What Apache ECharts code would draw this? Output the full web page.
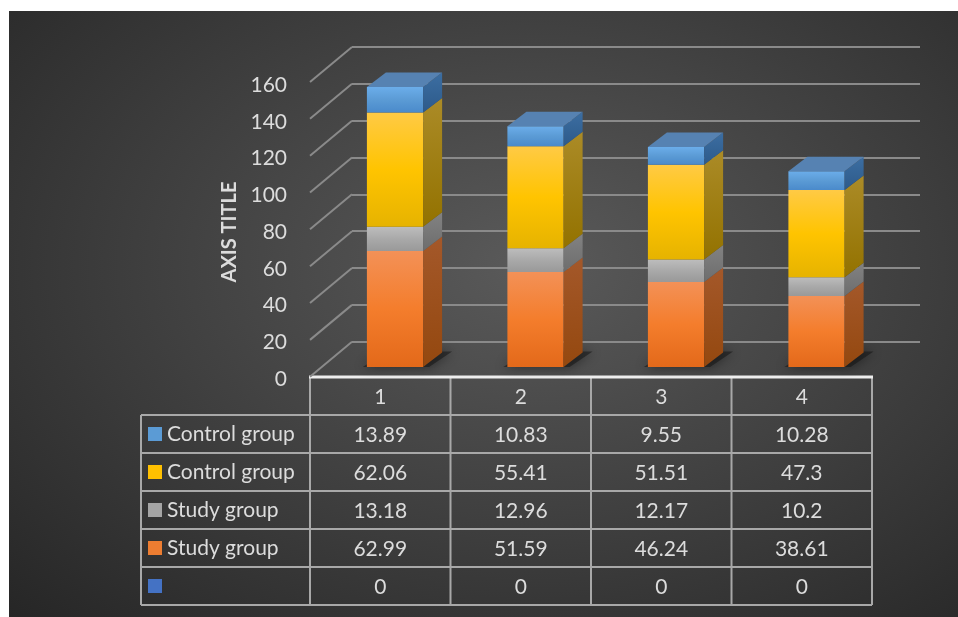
<!DOCTYPE html>
<html>
<head>
<meta charset="utf-8">
<script src="https://cdn.jsdelivr.net/npm/echarts@6/dist/echarts.min.js"></script>
<style>
html, body { margin: 0; padding: 0; background: #fff; }
#bg { position: absolute; left: 9px; top: 11px; width: 949px; height: 606px;
      background: radial-gradient(ellipse at 55% 42%, #5a5a5a 0%, #404040 50%, #262626 100%); }
#chart { position: absolute; left: 0; top: 0; width: 958px; height: 617px; }
</style>
</head>
<body>
<div id="bg"></div>
<div id="chart"></div>
<script>
// ---- data ----
const categories = ['1', '2', '3', '4'];
const yTicks = [0, 20, 40, 60, 80, 100, 120, 140, 160];
// stack order, from the floor up
const studyOrange = [62.99, 51.59, 46.24, 38.61];
const studyGray = [13.18, 12.96, 12.17, 10.2];
const controlYellow = [62.06, 55.41, 51.51, 47.3];
const controlBlue = [13.89, 10.83, 9.55, 10.28];
const blankSeries = [0, 0, 0, 0];
// table rows, top to bottom
const rowNames = ['Control group', 'Control group', 'Study group', 'Study group', ''];
const rowValues = [controlBlue, controlYellow, studyGray, studyOrange, blankSeries];
const rowColors = ['#5b9bd5', '#ffc000', '#a5a5a5', '#ed7d31', '#4472c4'];

// ---- looks ----
const DX = 19, DY = -14.5;          // bar depth
const WALL_DX = 42, WALL_DY = -35;  // wall depth
const TEXT = '#dcdcdc';
const FONT = 'Lato';
const FS = 21;
const layers = [
    { values: studyOrange, front: ['#f39157', '#f47d2c', '#e3691a'], side: ['#a4582a', '#94480f'] },
    { values: studyGray, front: ['#bdbdbd', '#a9a9a9', '#999999'], side: ['#828282', '#6d6d6d'] },
    { values: controlYellow, front: ['#ffca45', '#ffc400', '#e6b300'], side: ['#ab8b27', '#937200'] },
    { values: controlBlue, front: ['#6badea', '#5b9bd5', '#4a8acb'], side: ['#3c6ea2', '#2d5a8a'], top: '#5682b2' }
];

function grad(cols) {
    return new echarts.graphic.LinearGradient(0, 0, 0, 1,
        cols.map((c, i) => ({ offset: i / (cols.length - 1), color: c })));
}

function segmentRenderer(layer) {
    return function (params, api) {
        const c = api.value(0);
        const lo = api.coord([c, api.value(1)]);
        const hi = api.coord([c, api.value(2)]);
        const w = api.size([1, 0])[0] * 0.4;
        const x0 = lo[0] - w / 2, x1 = lo[0] + w / 2, yb = lo[1], yt = hi[1];
        if (yb - yt < 0.5) return null;
        const children = [
            { type: 'rect', shape: { x: x0, y: yt, width: w, height: yb - yt }, style: { fill: grad(layer.front) } },
            { type: 'polygon', shape: { points: [[x1, yb], [x1 + DX, yb + DY], [x1 + DX, yt + DY], [x1, yt]] },
              style: { fill: grad(layer.side) } }
        ];
        if (layer.top) {
            children.push({ type: 'polygon',
                shape: { points: [[x0, yt], [x1, yt], [x1 + DX, yt + DY], [x0 + DX, yt + DY]] },
                style: { fill: layer.top } });
        }
        return { type: 'group', children: children };
    };
}

// stacked bases
const acc = categories.map(() => 0);
const barSeries = layers.map(layer => {
    const data = layer.values.map((v, i) => {
        const item = [i, acc[i], acc[i] + v];
        acc[i] += v;
        return item;
    });
    return { type: 'custom', xAxisIndex: 2, yAxisIndex: 2, renderItem: segmentRenderer(layer), data: data, z: 3 };
});

// soft floor shadows under bars
const shadowSeries = {
    type: 'custom', xAxisIndex: 2, yAxisIndex: 2, z: 2, silent: true,
    data: categories.map((_, i) => [i, 0]),
    renderItem: function (params, api) {
        const p = api.coord([api.value(0), 0]);
        const w = api.size([1, 0])[0] * 0.4;
        const x0 = p[0] - w / 2, x1 = p[0] + w / 2, yb = p[1];
        return {
            type: 'polygon',
            shape: { points: [[x0 - 4, yb], [x1 + 6, yb], [x1 + DX + 10, yb + DY - 1], [x0 + DX, yb + DY - 1]] },
            style: { fill: 'rgba(20,20,20,0.55)', shadowBlur: 12, shadowColor: 'rgba(0,0,0,0.85)' }
        };
    }
};

// slanted lines of the side wall
const wallSeries = {
    type: 'custom', xAxisIndex: 1, yAxisIndex: 1, z: 1, silent: true,
    data: yTicks.map(v => [0, v]),
    renderItem: function (params, api) {
        const p = api.coord([0, api.value(1)]);
        return { type: 'line', shape: { x1: p[0], y1: p[1], x2: p[0] - WALL_DX, y2: p[1] - WALL_DY },
                 style: { stroke: '#8a8a8a', lineWidth: 2 } };
    }
};

// data table texts
const tableTexts = [];
const tableData = [];
categories.forEach((c, ci) => { tableData.push([ci, 0]); tableTexts.push(c); });
rowValues.forEach((vals, r) => {
    vals.forEach((v, ci) => { tableData.push([ci, r + 1]); tableTexts.push(String(v)); });
});
const tableSeries = {
    type: 'custom', xAxisIndex: 3, yAxisIndex: 3, silent: true, z: 5,
    data: tableData,
    renderItem: function (params, api) {
        const p = api.coord([api.value(0), api.value(1)]);
        return { type: 'text', x: p[0], y: p[1] + 1,
                 style: { text: tableTexts[params.dataIndex], fill: TEXT, fontSize: FS, fontFamily: FONT,
                          align: 'center', verticalAlign: 'middle' } };
    }
};

// table rules
const colX = [310, 450.5, 591, 731.5, 872];
const rowY = [415, 453, 491, 529, 567, 605];
const tableLines = [];
colX.forEach(x => tableLines.push({ type: 'line', shape: { x1: x, y1: 377, x2: x, y2: 605 } }));
tableLines.push({ type: 'line', shape: { x1: 141, y1: 415, x2: 141, y2: 605 } });
rowY.forEach(y => tableLines.push({ type: 'line', shape: { x1: 141, y1: y, x2: 872, y2: y } }));
tableLines.forEach(l => { l.style = { stroke: '#a8a8a8', lineWidth: 2 }; l.silent = true; });
tableLines.push({ type: 'line', silent: true, shape: { x1: 309, y1: 377, x2: 873, y2: 377 },
                  style: { stroke: '#eeeeee', lineWidth: 3 } });

const rich = { t: { color: TEXT, fontSize: FS, fontFamily: FONT, padding: [0, 0, 0, 5] } };
rowColors.forEach((col, i) => { rich['s' + i] = { width: 14, height: 14, backgroundColor: col }; });

const valueAxisBase = { type: 'value', min: 0, max: 160, interval: 20 };

const option = {
    animation: false,
    backgroundColor: 'transparent',
    grid: [
        { left: 310, top: 85, width: 562, height: 294 },     // front face of left wall (labels)
        { left: 352, top: 47, width: 568, height: 294.7 },   // back wall
        { left: 324.75, top: 72.5, width: 562, height: 294.5 }, // bar front plane
        { left: 310, top: 377, width: 562, height: 228 }     // data table
    ],
    xAxis: [
        { gridIndex: 0, type: 'category', data: categories, show: false },
        { gridIndex: 1, type: 'value', min: 0, max: 1, show: false },
        { gridIndex: 2, type: 'category', data: categories, show: false },
        { gridIndex: 3, type: 'category', data: categories, show: false }
    ],
    yAxis: [
        Object.assign({}, valueAxisBase, {
            gridIndex: 0,
            name: 'AXIS TITLE', nameLocation: 'middle', nameRotate: 90, nameGap: 69,
            nameTextStyle: { color: TEXT, fontSize: 20, fontWeight: 'bold', fontFamily: FONT },
            axisLine: { show: false }, axisTick: { show: false }, splitLine: { show: false },
            axisLabel: { color: TEXT, fontSize: FS, fontFamily: FONT, margin: 23 }
        }),
        Object.assign({}, valueAxisBase, {
            gridIndex: 1,
            axisLine: { show: false }, axisTick: { show: false }, axisLabel: { show: false },
            splitLine: { show: true, lineStyle: { color: '#8a8a8a', width: 2 } }
        }),
        Object.assign({}, valueAxisBase, { gridIndex: 2, show: false }),
        {
            gridIndex: 3, type: 'category', inverse: true,
            data: ['h', 'r0', 'r1', 'r2', 'r3', 'r4'],
            axisLine: { show: false }, axisTick: { show: false }, splitLine: { show: false },
            axisLabel: {
                align: 'left', margin: 162, rich: rich,
                formatter: (v, idx) => idx === 0 ? '' : '{s' + (idx - 1) + '|}' + (rowNames[idx - 1] ? '{t|' + rowNames[idx - 1] + '}' : '')
            }
        }
    ],
    graphic: tableLines,
    series: [wallSeries, shadowSeries].concat(barSeries, [tableSeries])
};

const chart = echarts.init(document.getElementById('chart'));
chart.setOption(option);
</script>
</body>
</html>
